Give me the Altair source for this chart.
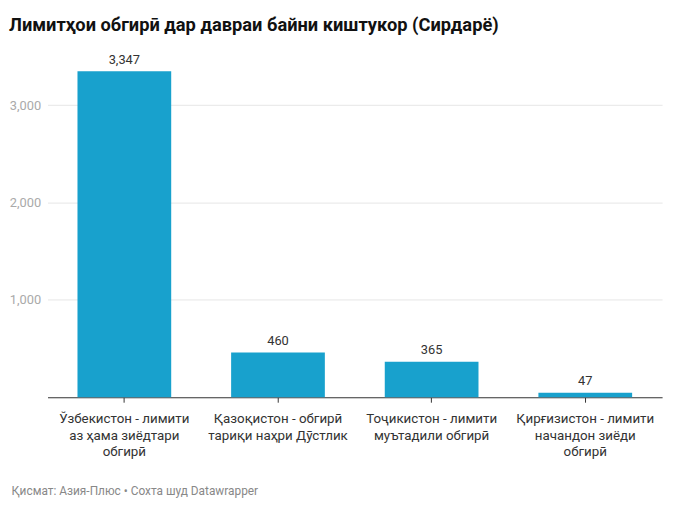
import altair as alt
import pandas as pd

categories = [
    "Ўзбекистон - лимити|аз ҳама зиёдтари|обгирӣ",
    "Қазоқистон - обгирӣ|тариқи наҳри Дӯстлик",
    "Тоҷикистон - лимити|муътадили обгирӣ",
    "Қирғизистон - лимити|начандон зиёди|обгирӣ",
]
values = [3347, 460, 365, 47]
y_ticks = [1000, 2000, 3000]

title_text = "Лимитҳои обгирӣ дар давраи байни киштукор (Сирдарё)"
footer_text = "Қисмат: Азия-Плюс • Сохта шуд Datawrapper"

df = pd.DataFrame({"cat": categories, "val": values})

FONT = "Roboto"

base = alt.Chart(df).encode(
    x=alt.X(
        "cat:N",
        sort=None,
        scale=alt.Scale(paddingInner=0.39, paddingOuter=0.195),
        axis=alt.Axis(
            title=footer_text,
            titleFont=FONT,
            titleFontSize=12,
            titleFontWeight="normal",
            titleColor="#888888",
            titleAnchor="start",
            titleAlign="left",
            titleX=-37,
            titleY=89,
            labelExpr="split(datum.label, '|')",
            labelFont=FONT,
            labelFontSize=13.5,
            labelColor="#333333",
            labelLineHeight=16.5,
            labelAngle=0,
            labelPadding=10,
            domainColor="#333333",
            domainWidth=1.2,
            tickColor="#333333",
            tickSize=5,
            grid=False,
        ),
    ),
    y=alt.Y(
        "val:Q",
        scale=alt.Scale(domain=[0, 3500], nice=False),
        axis=alt.Axis(
            title=None,
            values=y_ticks,
            labelExpr="format(datum.value, ',.0f')",
            domain=False,
            ticks=False,
            labelFont=FONT,
            labelFontSize=13,
            labelColor="#aaaaaa",
            labelPadding=7,
            gridColor="#e6e6e6",
        ),
    ),
)

bars = base.mark_bar(color="#18a1cd")
labels = base.mark_text(dy=-11.5, font=FONT, fontSize=13, color="#333333").encode(
    text=alt.Text("val:Q", format=",")
)

chart = (
    (bars + labels)
    .properties(
        width=622,
        height=345,
        autosize=alt.AutoSizeParams(type="none"),
        padding={"left": 40, "top": 46, "right": 8, "bottom": 100},
        title=alt.TitleParams(
            text=title_text,
            anchor="start",
            frame="group",
            font=FONT,
            fontSize=18.5,
            fontWeight="bold",
            color="#111111",
            dx=-39,
            offset=20,
        ),
    )
    .configure_view(stroke=None)
)

chart.save("out.html", embed_options={"renderer": "svg", "actions": False})
